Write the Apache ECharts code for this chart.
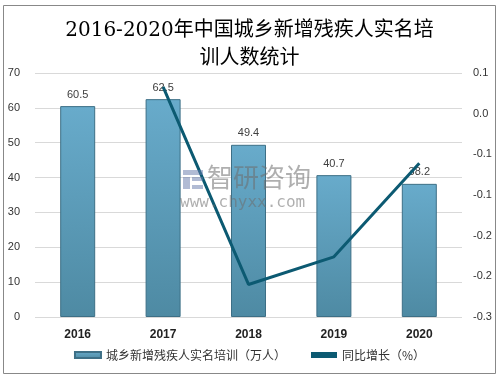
<!DOCTYPE html>
<html><head><meta charset="utf-8">
<script src="https://cdn.jsdelivr.net/npm/echarts@6/dist/echarts.min.js"></script>
<style>html,body{margin:0;padding:0;background:#fff}#c{width:499px;height:379px}</style>
</head><body><div id="c"></div>
<script>
var years = ['2016','2017','2018','2019','2020'];
var trainees = [60.5, 62.5, 49.4, 40.7, 38.2];
var growth = [null, 0.033, -0.210, -0.176, -0.061];
var rightTickLabels = ['-0.3','-0.2','-0.2','-0.1','-0.1','0.0','0.1'];
var titleText = '2016-2020年中国城乡新增残疾人实名培\n训人数统计';
var barName = '城乡新增残疾人实名培训（万人）';
var lineName = '同比增长（%）';

var chart = echarts.init(document.getElementById('c'));
chart.setOption({
  animation: false,
  backgroundColor: '#fff',
  title: {
    text: titleText,
    left: 'center', top: 12,
    textStyle: {fontFamily: '"DejaVu Serif", "Noto Sans CJK SC", serif', fontSize: 20, fontWeight: 'normal', color: '#000', lineHeight: 28}
  },
  graphic: [
    {type: 'rect', shape: {x: 3.5, y: 5.5, width: 492, height: 368}, style: {fill: 'none', stroke: '#888', lineWidth: 1}, silent: true, z: 100},
    {type: 'text', left: 207, top: 164, style: {text: '智研咨询', font: '26px "Noto Sans CJK SC"', fill: 'rgba(110,110,110,0.55)'}, z: 50},
    {type: 'text', left: 180, top: 195, style: {text: 'www.chyxx.com', font: '16px "DejaVu Sans Mono"', fill: 'rgba(110,110,110,0.55)'}, z: 50},
    {type: 'rect', shape: {x: 183, y: 170, width: 20, height: 5}, style: {fill: 'rgba(100,120,170,0.5)'}, z: 50},
    {type: 'rect', shape: {x: 183, y: 177, width: 7, height: 12}, style: {fill: 'rgba(100,120,170,0.5)'}, z: 50},
    {type: 'rect', shape: {x: 192, y: 177, width: 11, height: 4}, style: {fill: 'rgba(100,120,170,0.5)'}, z: 50},
    {type: 'rect', shape: {x: 192, y: 185, width: 11, height: 4}, style: {fill: 'rgba(100,120,170,0.5)'}, z: 50}
  ],
  grid: {left: 35, right: 37, top: 73, bottom: 62},
  legend: {
    bottom: 13, left: 'center', itemGap: 25, itemWidth: 26, itemHeight: 6,
    textStyle: {fontFamily: '"Noto Sans CJK SC"', fontSize: 12, color: '#333'},
    data: [
      {name: barName, icon: 'rect'},
      {name: lineName, icon: 'rect', itemStyle: {color: '#0c5a72'}}
    ]
  },
  xAxis: {
    type: 'category', data: years,
    axisLine: {show: false}, axisTick: {show: false},
    axisLabel: {fontWeight: 'bold', fontSize: 12, color: '#222', fontFamily: '"Liberation Sans", Arial, sans-serif', margin: 12}
  },
  yAxis: [
    {type: 'value', min: 0, max: 70, interval: 10,
     axisLine: {show: false}, axisTick: {show: false},
     splitLine: {lineStyle: {color: '#d9d9d9'}},
     axisLabel: {fontSize: 11, color: '#333', margin: 15, fontFamily: '"Liberation Sans", Arial, sans-serif'}},
    {type: 'value', min: -0.25, max: 0.05, interval: 0.05,
     axisLine: {show: false}, axisTick: {show: false}, splitLine: {show: false},
     axisLabel: {fontSize: 11, color: '#333', margin: 11, fontFamily: '"Liberation Sans", Arial, sans-serif',
       formatter: function (v, i) { return rightTickLabels[i] !== undefined ? rightTickLabels[i] : v; }}}
  ],
  series: [
    {name: barName, type: 'bar', data: trainees, barWidth: 35,
     itemStyle: {
       color: new echarts.graphic.LinearGradient(0, 0, 0, 1, [{offset: 0, color: '#68abcb'}, {offset: 1, color: '#4e8aa3'}]),
       borderColor: '#3d6f86', borderWidth: 1
     },
     label: {show: true, position: 'top', fontSize: 11, color: '#404040', distance: 6, fontFamily: '"Liberation Sans", Arial, sans-serif'}},
    {name: lineName, type: 'line', yAxisIndex: 1, data: growth, symbol: 'none',
     lineStyle: {color: '#0c5a72', width: 3}, itemStyle: {color: '#0c5a72'}, z: 10}
  ]
});
</script></body></html>
